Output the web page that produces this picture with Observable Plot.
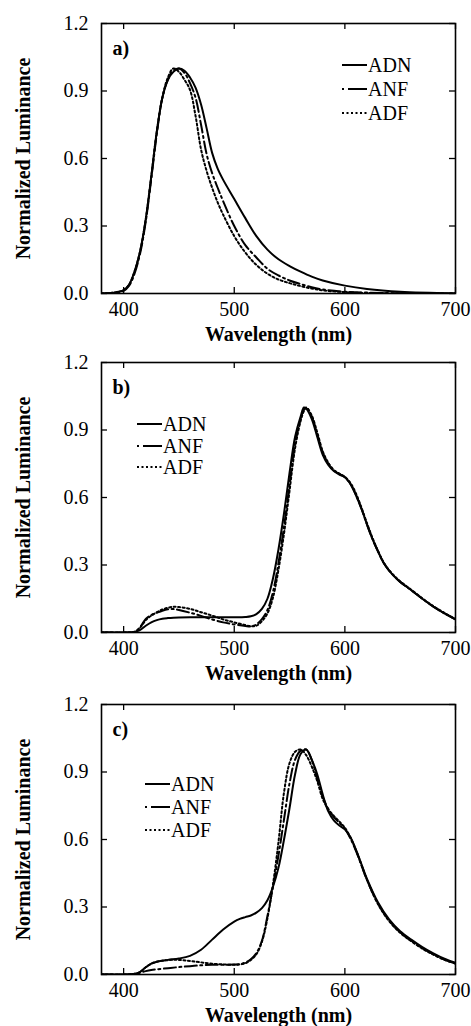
<!DOCTYPE html>
<html><head><meta charset="utf-8">
<script src="https://cdn.jsdelivr.net/npm/d3@7"></script>
<script src="https://cdn.jsdelivr.net/npm/@observablehq/plot@0.6"></script>
<style>
body{margin:0;background:#fff;}
#chart svg{display:block;overflow:visible;}
</style></head><body><div id="chart"></div>
<script>
const seriesNames = ["ADN", "ANF", "ADF"];
const xTicks = [400, 500, 600, 700];
const yTicks = [0, 0.3, 0.6, 0.9, 1.2];
const panelTags = ["a)", "b)", "c)"];
const xLabel = "Wavelength (nm)";
const yLabel = "Normalized Luminance";

// Panel a
const wlA  = [380,390,400,405,410,415,420,425,430,435,440,445,450,455,460,465,470,475,480,485,490,500,510,520,530,540,550,560,570,580,600,620,650,700];
const adnA = [0,0.003,0.015,0.04,0.10,0.19,0.33,0.52,0.72,0.87,0.95,0.985,1.0,0.99,0.96,0.915,0.84,0.735,0.625,0.555,0.505,0.42,0.335,0.255,0.195,0.152,0.122,0.097,0.075,0.058,0.035,0.02,0.008,0.001];
const anfA = [0,0.002,0.012,0.035,0.09,0.18,0.32,0.51,0.71,0.87,0.95,0.99,1.0,0.98,0.935,0.87,0.75,0.62,0.535,0.47,0.41,0.30,0.215,0.16,0.11,0.08,0.058,0.042,0.028,0.018,0.008,0.004,0.001,0];
const adfA = [0,0.003,0.015,0.04,0.10,0.19,0.33,0.52,0.72,0.87,0.96,1.0,0.985,0.95,0.905,0.79,0.64,0.545,0.47,0.405,0.35,0.255,0.182,0.127,0.088,0.062,0.046,0.033,0.022,0.014,0.006,0.002,0,0];

// Panel b
const wlB  = [380,400,410,415,420,425,430,435,440,445,450,460,470,480,490,500,510,515,520,525,530,535,540,545,550,555,560,563,565,570,575,580,585,590,595,600,605,610,615,620,625,630,635,640,645,650,660,670,680,690,700];
const adnB = [0,0,0.003,0.012,0.03,0.045,0.055,0.061,0.064,0.066,0.067,0.068,0.068,0.068,0.068,0.068,0.069,0.072,0.082,0.105,0.15,0.24,0.37,0.53,0.71,0.87,0.96,1.0,0.995,0.95,0.87,0.79,0.745,0.718,0.702,0.69,0.66,0.61,0.55,0.48,0.415,0.36,0.31,0.275,0.248,0.225,0.188,0.15,0.115,0.085,0.058];
const anfB = [0,0,0.003,0.025,0.06,0.078,0.088,0.097,0.103,0.104,0.10,0.088,0.074,0.058,0.045,0.036,0.029,0.027,0.036,0.06,0.10,0.18,0.31,0.47,0.66,0.84,0.95,0.99,1.0,0.96,0.88,0.80,0.75,0.72,0.705,0.69,0.66,0.612,0.55,0.48,0.415,0.36,0.31,0.275,0.248,0.225,0.188,0.15,0.115,0.085,0.058];
const adfB = [0,0,0.003,0.022,0.055,0.075,0.09,0.102,0.11,0.114,0.113,0.105,0.09,0.075,0.058,0.045,0.033,0.028,0.03,0.05,0.085,0.155,0.28,0.44,0.63,0.82,0.94,0.985,1.0,0.965,0.89,0.805,0.755,0.722,0.706,0.692,0.665,0.618,0.555,0.485,0.42,0.362,0.312,0.277,0.25,0.227,0.19,0.152,0.117,0.087,0.06];

// Panel c
const wlC  = [380,400,410,415,420,425,430,440,450,460,470,480,490,500,505,510,515,520,525,530,535,540,545,550,555,560,565,570,575,580,585,590,595,600,605,610,615,620,630,640,650,660,670,680,690,700];
const adnC = [0,0,0.003,0.012,0.032,0.048,0.057,0.065,0.071,0.083,0.11,0.155,0.20,0.235,0.247,0.255,0.262,0.275,0.295,0.33,0.39,0.475,0.60,0.74,0.89,0.98,1.0,0.955,0.89,0.80,0.725,0.685,0.662,0.645,0.61,0.555,0.49,0.425,0.32,0.245,0.192,0.155,0.122,0.094,0.07,0.052];
const anfC = [0,0,0.002,0.008,0.015,0.02,0.023,0.028,0.033,0.037,0.041,0.043,0.043,0.044,0.046,0.053,0.068,0.095,0.15,0.26,0.39,0.53,0.69,0.85,0.955,0.995,1.0,0.955,0.87,0.79,0.735,0.70,0.675,0.648,0.605,0.55,0.485,0.42,0.315,0.24,0.188,0.15,0.117,0.09,0.066,0.048];
const adfC = [0,0,0.003,0.012,0.032,0.048,0.057,0.064,0.065,0.06,0.054,0.048,0.045,0.043,0.045,0.05,0.065,0.09,0.145,0.25,0.40,0.59,0.81,0.94,0.99,1.0,0.975,0.925,0.86,0.78,0.735,0.705,0.68,0.652,0.61,0.553,0.487,0.42,0.312,0.237,0.185,0.148,0.115,0.088,0.065,0.048];

const dashes = {ADN: null, ANF: "12,3.5,2,3.5", ADF: "2,2.5"};
const W = 471, mL = 101, mR = 16, plotH = 270, plotW = W - mL - mR;
const font = "'Liberation Serif', 'Times New Roman', serif";

function panel(tag, wl, series, marginTop, height, legend) {
  const rows = [];
  seriesNames.forEach((name, i) => wl.forEach((w, j) => rows.push({series: name, wl: w, v: series[i][j]})));
  const svg = Plot.plot({
    width: W, height, marginLeft: mL, marginRight: mR, marginTop, marginBottom: height - marginTop - plotH,
    style: {fontFamily: font, color: "#000", overflow: "visible"},
    x: {domain: [380, 700]},
    y: {domain: [0, 1.2]},
    marks: [
      ...seriesNames.map(name => Plot.line(rows.filter(r => r.series === name), {
        x: "wl", y: "v", stroke: "#000", strokeWidth: 2, strokeDasharray: dashes[name], curve: "catmull-rom", clip: true
      })),
      Plot.ruleX(xTicks, {x: d => d, insetTop: plotH - 6, strokeWidth: 1.3}),
      Plot.ruleX(xTicks, {x: d => d, insetBottom: plotH - 6, strokeWidth: 1.3}),
      Plot.ruleY(yTicks, {y: d => d, insetLeft: plotW - 6, strokeWidth: 1.3}),
      Plot.ruleY(yTicks, {y: d => d, insetRight: plotW - 6, strokeWidth: 1.3}),
      Plot.frame({stroke: "#000", strokeWidth: 1.6}),
      Plot.axisX(xTicks, {tickSize: 0, tickPadding: 8, fontSize: 20, label: null}),
      Plot.axisY(yTicks, {tickSize: 0, tickPadding: 13, fontSize: 20, tickFormat: d3.format(".1f"), label: null}),
      Plot.text([tag], {frameAnchor: "top-left", dx: 11, dy: 25, textAnchor: "start", lineAnchor: "middle", fontWeight: "bold", fontSize: 20}),
      Plot.text([yLabel], {frameAnchor: "left", rotate: -90, dx: -78, textAnchor: "middle", lineAnchor: "middle", fontWeight: "bold", fontSize: 20}),
      Plot.text([xLabel], {frameAnchor: "bottom", dy: 41, textAnchor: "middle", lineAnchor: "middle", fontWeight: "bold", fontSize: 20})
    ]
  });
  const g = d3.select(svg).append("g").attr("font-family", font).attr("font-size", 20).attr("text-anchor", "start");
  seriesNames.forEach((name, i) => {
    const y = marginTop + legend.rows[i];
    g.append("line").attr("x1", legend.x).attr("x2", legend.x + 25).attr("y1", y).attr("y2", y)
      .attr("stroke", "#000").attr("stroke-width", 2).attr("stroke-dasharray", name === "ANF" ? "2,4,19,0" : dashes[name]);
    g.append("text").attr("x", legend.x + 26).attr("y", y).attr("dy", "0.35em").attr("fill", "#000").attr("text-anchor", "start").text(name);
  });
  return svg;
}

const root = document.getElementById("chart");
root.appendChild(panel(panelTags[0], wlA, [adnA, anfA, adfA], 23, 347, {x: 342, rows: [42, 66, 90]}));
root.appendChild(panel(panelTags[1], wlB, [adnB, anfB, adfB], 15, 340, {x: 137, rows: [62, 84, 105]}));
root.appendChild(panel(panelTags[2], wlC, [adnC, anfC, adfC], 17, 339, {x: 145, rows: [80, 103, 126]}));
</script></body></html>
